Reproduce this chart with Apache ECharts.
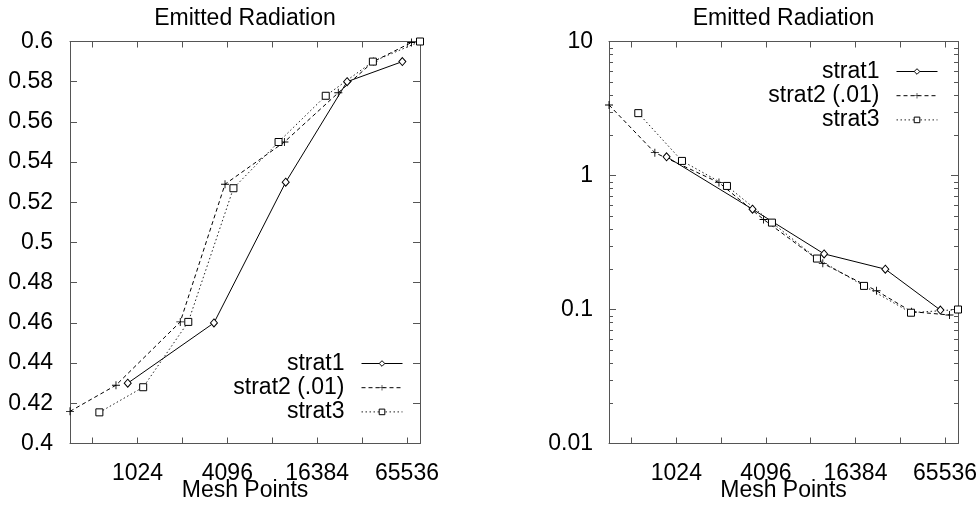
<!DOCTYPE html>
<html><head><meta charset="utf-8">
<script src="https://cdn.jsdelivr.net/npm/echarts@6/dist/echarts.min.js"></script>
<style>html,body{margin:0;padding:0;background:#fff}#c{width:980px;height:505px}</style>
</head><body><div id="c"></div>
<script>
// ---- data ----
const titleText = 'Emitted Radiation';
const xAxisName = 'Mesh Points';
const seriesNames = ['strat1', 'strat2 (.01)', 'strat3'];
const xTickLabels = [1024, 4096, 16384, 65536];

const strat1X = [880, 3330, 10080, 26000, 61000];
const strat1Lin = [0.430, 0.460, 0.530, 0.580, 0.590];
const strat1Log = [1.38, 0.56, 0.26, 0.20, 0.099];

const strat2X = [361, 734, 1980, 3950, 9880, 22700, 39000, 70200];
const strat2Lin = [0.416, 0.429, 0.4605, 0.529, 0.550, 0.5745, 0.590, 0.5995];
const strat2Log = [3.36, 1.48, 0.885, 0.47, 0.221, 0.138, 0.0964, 0.091];

const strat3X = [568, 1117, 2241, 4498, 9025, 18700, 38700, 80100];
const strat3Lin = [0.4155, 0.428, 0.4605, 0.527, 0.550, 0.573, 0.590, 0.600];
const strat3Log = [2.92, 1.285, 0.836, 0.445, 0.240, 0.150, 0.0946, 0.100];

const linMin = 0.4, linMax = 0.6, linStep = 0.02;
const logMin = 0.01, logMax = 10;

// ---- build ----
const allX = strat1X.concat(strat2X, strat3X);
const xMin = Math.min.apply(null, allX);
const xMax = Math.max.apply(null, allX);
const minorTicks = [];
for (let d = logMin; d < logMax * 0.99; d *= 10) {
  for (let k = 2; k <= 9; k++) minorTicks.push(+(k * d).toPrecision(3));
}
const pairs = (xs, ys) => xs.map((x, i) => [x, ys[i]]);
const FONT = 'Liberation Sans, Arial, sans-serif';
const AX = '#555';
const grids = [
  { left: 70, top: 41.5, width: 350, height: 402, outerBoundsMode: 'none', containLabel: false },
  { left: 609, top: 41.5, width: 349, height: 402, outerBoundsMode: 'none', containLabel: false }
];

function xLabelFmt(v) {
  const e = Math.log2(v), r = Math.round(e);
  if (Math.abs(e - r) < 1e-6 && xTickLabels.indexOf(Math.pow(2, r)) >= 0) return String(Math.pow(2, r));
  return '';
}
function xAxisCfg(gi, pos, labels) {
  return {
    type: 'log', logBase: 2, gridIndex: gi, position: pos, min: xMin, max: xMax, splitNumber: 8,
    axisLine: { show: true, onZero: false, lineStyle: { color: AX, width: 1 } },
    axisTick: { show: true, inside: true, length: 6, lineStyle: { color: AX } },
    axisLabel: { show: labels, formatter: xLabelFmt, fontSize: 23, color: '#000', margin: 19, fontFamily: FONT },
    splitLine: { show: false },
    name: labels ? xAxisName : '', nameLocation: 'middle', nameGap: 36, nameMoveOverlap: false,
    nameTextStyle: { fontSize: 23, color: '#000', fontFamily: FONT }
  };
}
function yLinCfg(gi, pos, labels) {
  return {
    type: 'value', gridIndex: gi, position: pos, min: linMin, max: linMax, interval: linStep,
    axisLine: { show: true, onZero: false, lineStyle: { color: AX, width: 1 } },
    axisTick: { show: true, inside: true, length: 7, lineStyle: { color: AX } },
    axisLabel: { show: labels, fontSize: 23, color: '#000', margin: 17, fontFamily: FONT },
    splitLine: { show: false }
  };
}
function yLogCfg(gi, pos, labels) {
  return {
    type: 'log', logBase: 10, gridIndex: gi, position: pos, min: logMin, max: logMax,
    axisLine: { show: true, onZero: false, lineStyle: { color: AX, width: 1 } },
    axisTick: { show: true, inside: true, length: 7, lineStyle: { color: AX } },
    axisLabel: { show: labels, fontSize: 23, color: '#000', margin: 16, fontFamily: FONT },
    splitLine: { show: false }
  };
}

const plusPath = 'path://M4.45,0H5.55V4.45H10V5.55H5.55V10H4.45V5.55H0V4.45H4.45Z';
const styles = [
  { symbol: 'diamond', symbolSize: [7, 8], itemStyle: { color: '#fff', borderColor: '#000', borderWidth: 1 }, lineStyle: { color: '#000', width: 1, type: 'solid' } },
  { symbol: plusPath, symbolSize: 8, itemStyle: { color: '#000', borderWidth: 0 }, lineStyle: { color: '#000', width: 1, type: [4, 3] } },
  { symbol: 'rect', symbolSize: 7, itemStyle: { color: '#fff', borderColor: '#000', borderWidth: 1 }, lineStyle: { color: '#222', width: 1, type: [1.5, 2.5] } }
];
const xs = [strat1X, strat2X, strat3X];
const linYs = [strat1Lin, strat2Lin, strat3Lin];
const logYs = [strat1Log, strat2Log, strat3Log];

const series = [];
[0, 1].forEach(g => {
  seriesNames.forEach((name, i) => {
    series.push(Object.assign({
      type: 'line', name, xAxisIndex: g * 2, yAxisIndex: g * 2,
      data: pairs(xs[i], g === 0 ? linYs[i] : logYs[i]),
      showSymbol: true, silent: true, animation: false, z: 3,
      emphasis: { disabled: true }
    }, styles[i]));
  });
});
series.push({
  type: 'custom', name: 'minor', xAxisIndex: 2, yAxisIndex: 2, silent: true, animation: false,
  data: minorTicks.map(v => [xMin, v]),
  renderItem: function (params, api) {
    const y = Math.round(api.coord([api.value(0), api.value(1)])[1]) + 0.5;
    const cs = params.coordSys;
    const st = { stroke: AX, lineWidth: 1 };
    return { type: 'group', children: [
      { type: 'line', shape: { x1: cs.x, y1: y, x2: cs.x + 4, y2: y }, style: st },
      { type: 'line', shape: { x1: cs.x + cs.width - 4, y1: y, x2: cs.x + cs.width, y2: y }, style: st }
    ] };
  }
});

function legendCfg(right, top) {
  return {
    orient: 'vertical', right, top, padding: 0, itemGap: 1.2, itemWidth: 41, itemHeight: 7,
    align: 'right', data: seriesNames, selectedMode: false,
    lineStyle: { width: 1 },
    itemStyle: { borderWidth: 1 },
    textStyle: { fontSize: 23, color: '#000', fontFamily: FONT, padding: [0, 12, 0, 0] }
  };
}

const option = {
  animation: false,
  backgroundColor: '#fff',
  textStyle: { fontFamily: FONT },
  title: [
    { text: titleText, left: 245, top: 7, textAlign: 'center', padding: 0, textStyle: { fontSize: 23, fontWeight: 'normal', color: '#000', fontFamily: FONT } },
    { text: titleText, left: 783.5, top: 7, textAlign: 'center', padding: 0, textStyle: { fontSize: 23, fontWeight: 'normal', color: '#000', fontFamily: FONT } }
  ],
  legend: [legendCfg(577, 352), legendCfg(42, 60)],
  grid: grids,
  xAxis: [xAxisCfg(0, 'bottom', true), xAxisCfg(0, 'top', false), xAxisCfg(1, 'bottom', true), xAxisCfg(1, 'top', false)],
  yAxis: [yLinCfg(0, 'left', true), yLinCfg(0, 'right', false), yLogCfg(1, 'left', true), yLogCfg(1, 'right', false)],
  series
};
const chart = echarts.init(document.getElementById('c'), null, { renderer: 'canvas' });
chart.setOption(option);
</script>
</body></html>
